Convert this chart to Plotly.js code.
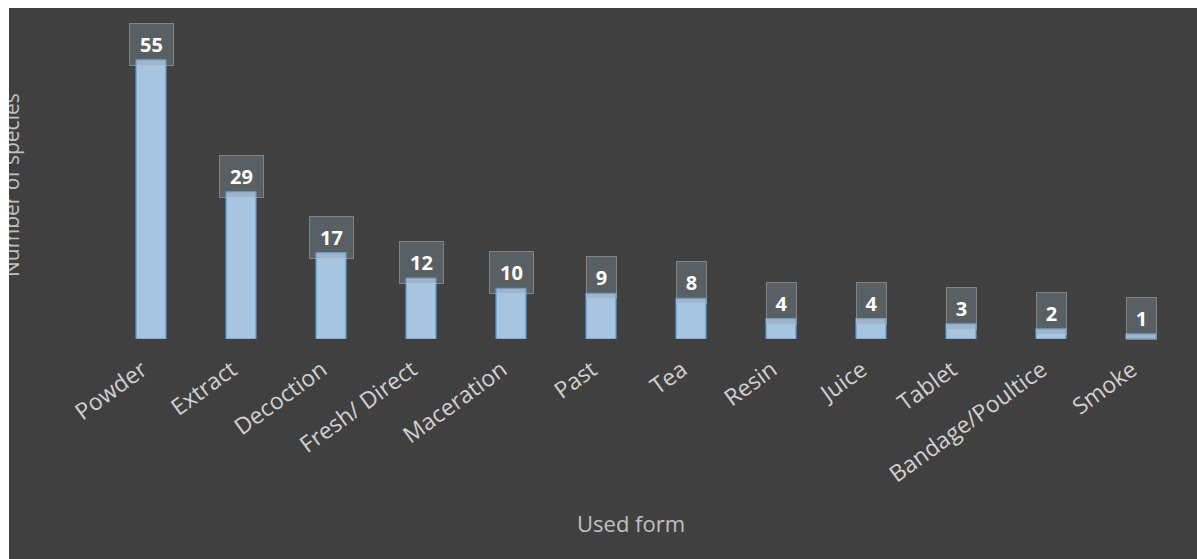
<!DOCTYPE html>
<html>
<head>
<meta charset="utf-8">
<script src="https://cdn.plot.ly/plotly-3.0.1.min.js"></script>
<style>
  html, body { margin:0; padding:0; background:#ffffff; }
  #wrap { position:relative; width:1197px; height:559px; overflow:hidden; }
  #chart { position:absolute; left:0; top:0; width:1197px; height:559px; }
  .mask { position:absolute; background:#ffffff; z-index:10; }
</style>
</head>
<body>
<div id="wrap">
  <div id="chart"></div>
  <div class="mask" style="left:0;top:0;width:9px;height:559px;"></div>
  <div class="mask" style="left:0;top:0;width:1197px;height:8px;"></div>
</div>
<script>
const categories = ["Powder", "Extract", "Decoction", "Fresh/ Direct", "Maceration", "Past", "Tea", "Resin", "Juice", "Tablet", "Bandage/Poultice", "Smoke"];
const species = [55, 29, 17, 12, 10, 9, 8, 4, 4, 3, 2, 1];
const xTitle = "Used form";
const yTitle = "Number of species";

const FONT = "Open Sans, Noto Sans, sans-serif";

const trace = {
  type: "bar",
  x: categories,
  y: species,
  marker: { color: "#a7c4e0", line: { color: "#5b9bd5", width: 1.2 } },
  hoverinfo: "skip"
};

const labelAnns = categories.map((c, i) => {
  const txt = String(species[i]);
  return {
    x: c, y: species[i], xref: "x", yref: "y",
    text: "<b>" + txt + "</b>",
    showarrow: false,
    yanchor: "bottom", xanchor: "center",
    yshift: -6,
    width: txt.length > 1 ? 43 : 29,
    height: 41,
    borderpad: 0,
    borderwidth: 1,
    bordercolor: "rgba(190,195,200,0.45)",
    bgcolor: "rgba(140,155,170,0.35)",
    font: { family: FONT, size: 20, color: "#ffffff" }
  };
});

const layout = {
  width: 1197, height: 559,
  paper_bgcolor: "#404040",
  plot_bgcolor: "#404040",
  margin: { l: 106, r: 11, t: 9, b: 220 },
  bargap: 0.667,
  showlegend: false,
  xaxis: {
    type: "category",
    tickangle: -36,
    tickfont: { family: FONT, size: 23, color: "#d0d0d0" },
    showgrid: false, zeroline: false, showline: false,
    ticks: "", ticklabelstandoff: 12, ticklabelshift: -9
  },
  yaxis: {
    range: [0, 65],
    showticklabels: false, showgrid: false, zeroline: false, showline: false, ticks: ""
  },
  annotations: labelAnns.concat([
    {
      text: xTitle, xref: "paper", yref: "paper",
      x: (631 - 106) / 1080, y: (339 - 523) / 330,
      xanchor: "center", yanchor: "middle", showarrow: false,
      font: { family: FONT, size: 22, color: "#c0c0c0" }
    },
    {
      text: yTitle, xref: "paper", yref: "paper",
      x: 0, xshift: 11 - 106, y: (339 - 185) / 330,
      xanchor: "center", yanchor: "middle", textangle: -90, showarrow: false,
      font: { family: FONT, size: 21, color: "#c0c0c0" }
    }
  ])
};

Plotly.newPlot("chart", [trace], layout, { displayModeBar: false, staticPlot: true });
</script>
</body>
</html>
